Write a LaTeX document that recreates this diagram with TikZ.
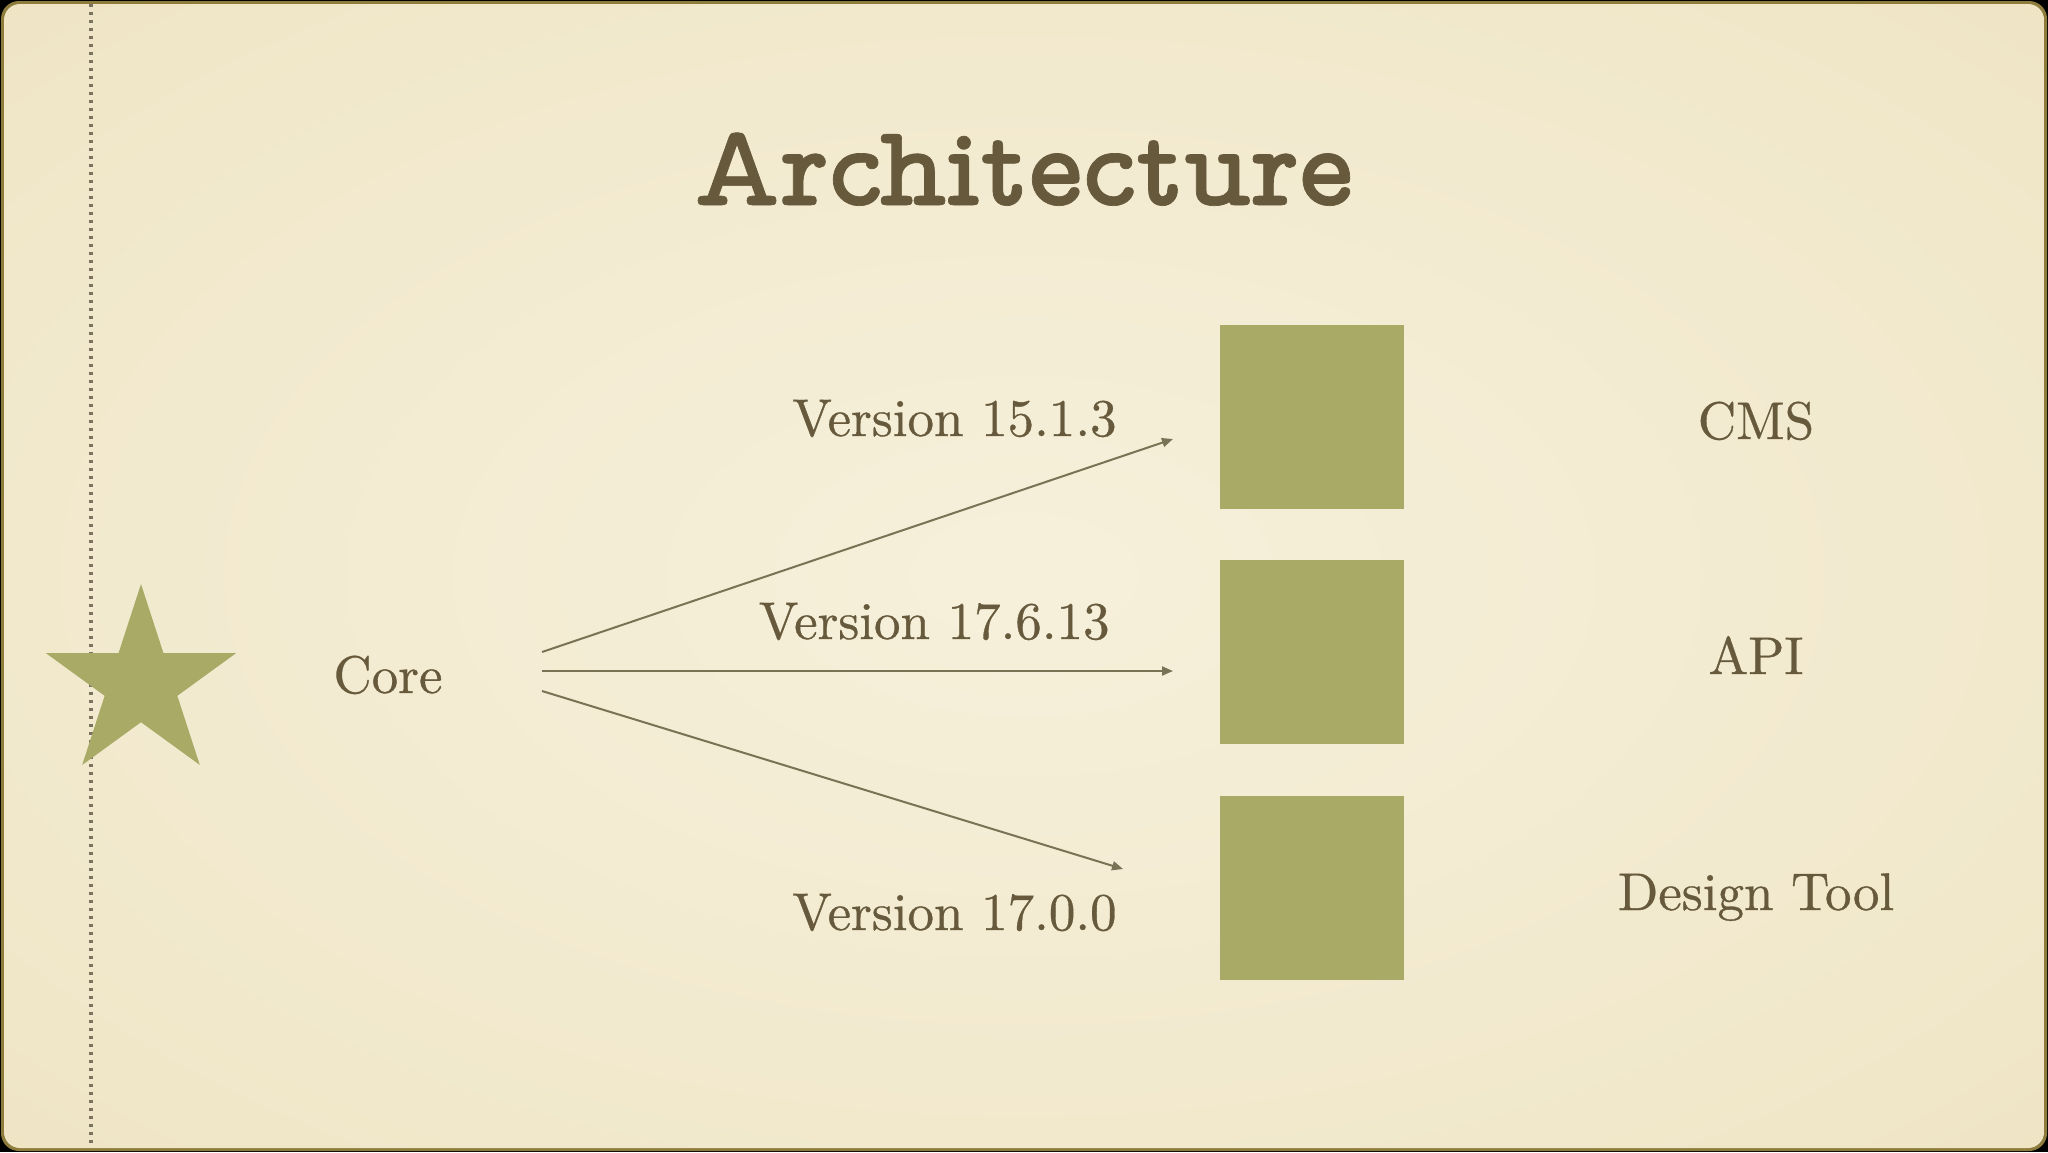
\documentclass[tikz,border=0pt]{standalone}
\usepackage{fontspec}
\newfontfamily\titlefont{lmmonoproplt10-bold.otf}[FakeBold=0.6]
\newfontfamily\bodyfont{lmroman10-regular.otf}[FakeBold=0.6]
\usetikzlibrary{arrows.meta}
\definecolor{bgin}{HTML}{F6F0DB}
\definecolor{bgmid}{HTML}{F1E8CB}
\definecolor{bgmid2}{HTML}{ECE0BD}
\definecolor{bgedge}{HTML}{E2CF9A}
\definecolor{bgout}{HTML}{D4BD80}
\definecolor{ink}{HTML}{675A3C}
\definecolor{olive}{HTML}{A8AA66}
\definecolor{arrowc}{HTML}{7A7254}
\definecolor{framec}{HTML}{8E7C3C}
\definecolor{dotc}{HTML}{7A735F}
\pgfdeclareradialshading{vignette}{\pgfpoint{0bp}{0bp}}{%
  color(0bp)=(bgin); color(28bp)=(bgmid); color(45bp)=(bgmid2);
  color(48.5bp)=(bgedge); color(50.5bp)=(bgout); color(75bp)=(bgout)}
\begin{document}
\begin{tikzpicture}[x=0.5pt,y=-0.5pt,
  lbl/.style={text=ink,font=\bodyfont\fontsize{26.5}{31}\selectfont,inner sep=0pt},
  box/.style={fill=olive,minimum width=92pt,minimum height=92pt,inner sep=0pt,anchor=north west},
  conn/.style={draw=arrowc,line width=1pt,-{Triangle[length=5.5pt,width=4.5pt]}}]
% background
\fill[black] (0,0) rectangle (2048,1152);
\fill[framec, rounded corners=9pt] (1,1) rectangle (2047,1151);
\shade[shading=vignette, rounded corners=8pt] (4,4) rectangle (2044,1148);
\useasboundingbox (0,0) rectangle (2048,1152);
% dotted margin line
\draw[dotc, line width=1.8pt, dash pattern=on 1.6pt off 2.4pt] (91,4) -- (91,1148);
% star
\fill[olive] (141,584)
  \foreach \k in {1,...,9} {
    -- ({141+(mod(\k,2)==0 ? 100 : 38.2)*sin(36*\k)}, {684-(mod(\k,2)==0 ? 100 : 38.2)*cos(36*\k)})
  } -- cycle;
% title
\node[text=ink, inner sep=0pt, anchor=base, font=\titlefont\fontsize{58}{66}\selectfont] (title) at (1023,205) {Architecture};
% core
\node[lbl, anchor=base] (core) at (388,693) {Core};
% boxes
\node[box] (cms) at (1220,325) {};
\node[box] (api) at (1220,560) {};
\node[box] (tool) at (1220,796) {};
% right labels
\node[lbl, anchor=base] (cmsl) at (1756,439) {CMS};
\node[lbl, anchor=base] (apil) at (1756,674) {API};
\node[lbl, anchor=base] (tooll) at (1756,910) {Design Tool};
% version labels
\node[lbl, anchor=base east] (v1) at (1117,436) {Version 15.1.3};
\node[lbl, anchor=base east] (v2) at (1110,639) {Version 17.6.13};
\node[lbl, anchor=base east] (v3) at (1117,930) {Version 17.0.0};
% connectors
\coordinate (s1) at (542,652);
\coordinate (s2) at (542,671);
\coordinate (s3) at (542,691);
\coordinate (e1) at (1173,439);
\coordinate (e2) at (1173,671);
\coordinate (e3) at (1123,869);
\draw[conn] (s1) -- (e1);
\draw[conn] (s2) -- (e2);
\draw[conn] (s3) -- (e3);
\end{tikzpicture}
\end{document}
